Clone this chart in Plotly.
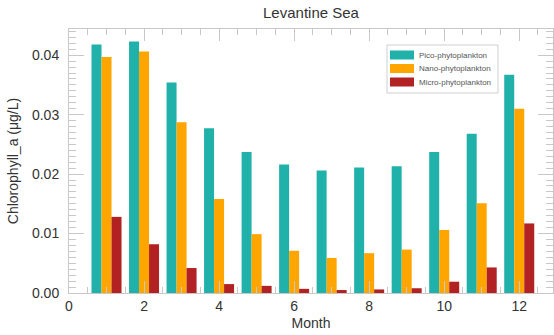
import plotly.graph_objects as go

months = [1, 2, 3, 4, 5, 6, 7, 8, 9, 10, 11, 12]
series_names = ["Pico-phytoplankton", "Nano-phytoplankton", "Micro-phytoplankton"]
pico = [0.0418, 0.0423, 0.0354, 0.0277, 0.0237, 0.0216, 0.0206, 0.0211, 0.0213, 0.0237, 0.0268, 0.0367]
nano = [0.0397, 0.0406, 0.0287, 0.0158, 0.0099, 0.0071, 0.0059, 0.0067, 0.0073, 0.0106, 0.0151, 0.0310]
micro = [0.0128, 0.0082, 0.0042, 0.0015, 0.0012, 0.0007, 0.0005, 0.0006, 0.0008, 0.0019, 0.0043, 0.0117]
colors = ["#20B2AA", "#FFA500", "#B22222"]
x_ticks = [0, 2, 4, 6, 8, 10, 12]
y_ticks = [0.00, 0.01, 0.02, 0.03, 0.04]

FONT = "Liberation Sans, Arial, Helvetica, sans-serif"
AX = "#c8c8c8"
TXT = "#333333"

fig = go.Figure()
for name, vals, col in zip(series_names, [pico, nano, micro], colors):
    fig.add_trace(go.Bar(x=months, y=vals, name=name, marker=dict(color=col, line=dict(width=0)),
                         showlegend=False))

# custom legend (wide swatches like the original)
L, R, T, B = 69, 553, 29, 293
W, H = R - L, B - T
def px(x): return (x - L) / W
def py(y): return (B - y) / H

shapes = [dict(type="rect", xref="paper", yref="paper",
               x0=px(387), x1=px(498), y0=py(93), y1=py(45),
               line=dict(color="#cfcfcf", width=1), fillcolor="white", layer="above")]
annotations = []
for i, (name, col) in enumerate(zip(series_names, colors)):
    cy = 55 + i * 13.5
    shapes.append(dict(type="rect", xref="paper", yref="paper",
                       x0=px(390), x1=px(414), y0=py(cy + 4.5), y1=py(cy - 4.5),
                       line=dict(width=0), fillcolor=col, layer="above"))
    annotations.append(dict(xref="paper", yref="paper", x=px(417), y=py(cy), text=name,
                            showarrow=False, xanchor="left", yanchor="middle",
                            font=dict(family=FONT, size=8, color="#555555")))

fig.update_layout(
    width=554, height=335,
    margin=dict(l=L, r=554 - R, t=T, b=335 - B, autoexpand=False),
    paper_bgcolor="white", plot_bgcolor="white",
    barmode="group", bargap=0.2, bargroupgap=0,
    title=dict(text="Levantine Sea", x=px(311), xref="paper", y=1 - 13 / 335, yanchor="middle",
               font=dict(family=FONT, size=15, color=TXT)),
    font=dict(family=FONT, size=14, color=TXT),
    shapes=shapes, annotations=annotations,
    xaxis=dict(range=[0, 12.9], tickvals=x_ticks, ticktext=[str(v) for v in x_ticks],
               ticks="inside", ticklen=12, tickcolor=AX, tickwidth=1,
               minor=dict(dtick=0.5, tick0=0, ticks="inside", ticklen=6, tickcolor=AX),
               showline=True, linecolor=AX, linewidth=1, mirror="ticks",
               showgrid=False, zeroline=False, automargin=False,
               tickfont=dict(family=FONT, size=14, color=TXT),
               title=dict(text="Month", standoff=5, font=dict(family=FONT, size=14, color=TXT))),
    yaxis=dict(range=[0, 0.0444], tickvals=y_ticks, ticktext=["%.2f" % v for v in y_ticks],
               ticks="inside", ticklen=15, tickcolor=AX, tickwidth=1,
               minor=dict(dtick=0.001, tick0=0, ticks="inside", ticklen=7, tickcolor=AX),
               showline=True, linecolor=AX, linewidth=1, mirror="ticks",
               showgrid=False, zeroline=False, ticklabelstandoff=6, automargin=False,
               tickfont=dict(family=FONT, size=14, color=TXT),
               title=dict(text="Chlorophyll_a (μg/L)", standoff=10,
                          font=dict(family=FONT, size=14, color=TXT))),
)

fig.write_html("out.html", config={"displayModeBar": False},
               post_script="document.body.style.margin='0';document.body.style.overflow='hidden';")
